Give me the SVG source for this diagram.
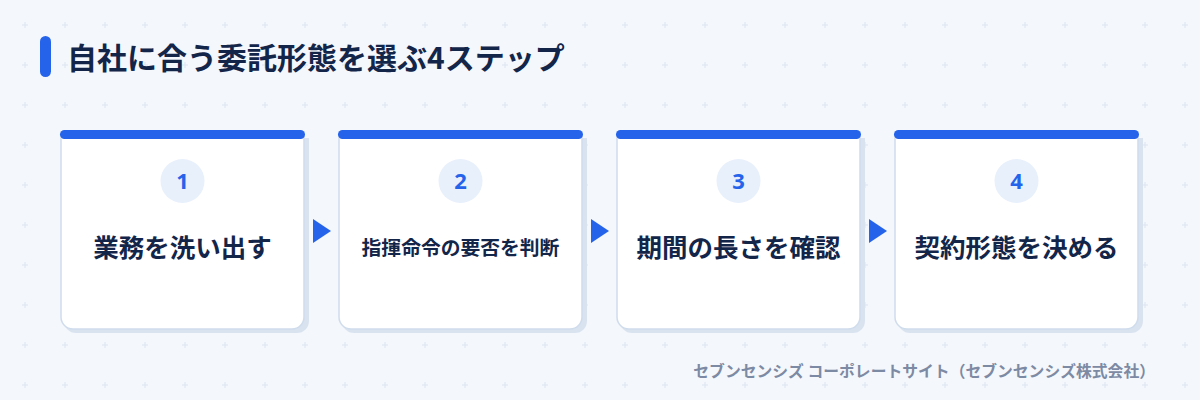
<svg xmlns="http://www.w3.org/2000/svg" width="1200" height="400" viewBox="0 0 1200 400">
<defs>
<pattern id="grid" x="5" y="5" width="40" height="40" patternUnits="userSpaceOnUse">
<path d="M17 20h6M20 17v6" stroke="#dde5f0" stroke-width="1"/>
</pattern>
<style>
.card{fill:#ffffff;stroke:#cfdcec;stroke-width:1.5}
.shadow{fill:#d9e3f0}
.bar{fill:#2563eb}
.circ{fill:#e8f0fc}
.num{font-family:"Noto Sans","Noto Sans CJK JP",sans-serif;font-weight:700;font-size:22px;fill:#2563eb;text-anchor:middle}
.lbl{font-family:"Noto Sans CJK JP",sans-serif;font-weight:700;fill:#13264a;text-anchor:middle}
.arr{fill:#2563eb}
</style>
</defs>
<rect width="1200" height="400" fill="#f4f7fc"/>
<rect width="1200" height="400" fill="url(#grid)"/>
<g id="title">
<rect x="40" y="36" width="11" height="41" rx="5.5" fill="#2563eb"/>
<text x="67" y="69" font-family="'Noto Sans CJK JP',sans-serif" font-weight="700" font-size="30" fill="#13264a">自社に合う委託形態を選ぶ4ステップ</text>
</g>
<g id="connectors">
<polygon class="arr" points="313,219 331,231 313,243"/>
<polygon class="arr" points="591,219 609,231 591,243"/>
<polygon class="arr" points="869,219 887,231 869,243"/>
</g>
<g id="step1">
<path class="shadow" d="M64 138H309V321a12 12 0 0 1-12 12H76a12 12 0 0 1-12-12Z"/>
<path class="card" d="M61 134H304V317a12 12 0 0 1-12 12H73a12 12 0 0 1-12-12Z"/>
<rect class="bar" x="60" y="130" width="245" height="9" rx="4.5"/>
<circle class="circ" cx="182.5" cy="181" r="22"/>
<text class="num" x="182.5" y="189">1</text>
<text class="lbl" x="182.5" y="257" font-size="25.5">業務を洗い出す</text>
</g>
<g id="step2">
<path class="shadow" d="M342 138H587V321a12 12 0 0 1-12 12H354a12 12 0 0 1-12-12Z"/>
<path class="card" d="M339 134H582V317a12 12 0 0 1-12 12H351a12 12 0 0 1-12-12Z"/>
<rect class="bar" x="338" y="130" width="245" height="9" rx="4.5"/>
<circle class="circ" cx="460.5" cy="181" r="22"/>
<text class="num" x="460.5" y="189">2</text>
<text class="lbl" x="460.5" y="255" font-size="19.8">指揮命令の要否を判断</text>
</g>
<g id="step3">
<path class="shadow" d="M620 138H865V321a12 12 0 0 1-12 12H632a12 12 0 0 1-12-12Z"/>
<path class="card" d="M617 134H860V317a12 12 0 0 1-12 12H629a12 12 0 0 1-12-12Z"/>
<rect class="bar" x="616" y="130" width="245" height="9" rx="4.5"/>
<circle class="circ" cx="738.5" cy="181" r="22"/>
<text class="num" x="738.5" y="189">3</text>
<text class="lbl" x="738.5" y="257" font-size="25.5">期間の長さを確認</text>
</g>
<g id="step4">
<path class="shadow" d="M898 138H1143V321a12 12 0 0 1-12 12H910a12 12 0 0 1-12-12Z"/>
<path class="card" d="M895 134H1138V317a12 12 0 0 1-12 12H907a12 12 0 0 1-12-12Z"/>
<rect class="bar" x="894" y="130" width="245" height="9" rx="4.5"/>
<circle class="circ" cx="1016.5" cy="181" r="22"/>
<text class="num" x="1016.5" y="189">4</text>
<text class="lbl" x="1016.5" y="257" font-size="25.5">契約形態を決める</text>
</g>
<g id="footer">
<text x="1155" y="377" text-anchor="end" font-family="'Noto Sans CJK JP',sans-serif" font-weight="700" font-size="15.8" fill="#7d8aa3">セブンセンシズ コーポレートサイト（セブンセンシズ株式会社）</text>
</g>
</svg>
